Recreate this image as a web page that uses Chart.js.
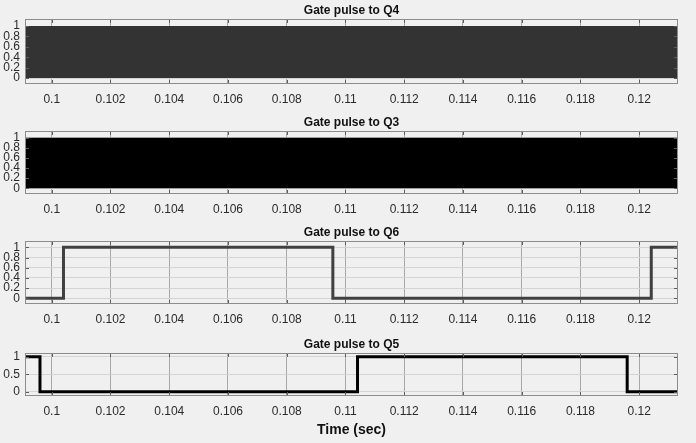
<!DOCTYPE html>
<html>
<head>
<meta charset="utf-8">
<script src="https://cdn.jsdelivr.net/npm/chart.js"></script>
<style>
  html, body { margin: 0; padding: 0; background: #f0f0f0; }
  #scope { position: relative; width: 696px; height: 443px; background: #f0f0f0; overflow: hidden; }
  #scope canvas { position: absolute; left: 0; }
</style>
</head>
<body>
<div id="scope">
  <canvas id="q4" width="696" height="110" style="top:0px"></canvas>
  <canvas id="q3" width="696" height="108" style="top:112px"></canvas>
  <canvas id="q6" width="696" height="108" style="top:222px"></canvas>
  <canvas id="q5" width="696" height="109" style="top:334px"></canvas>
</div>
<script>
// time window shown by the scope (sec)
const timeStart = 0.09909
const timeEnd = 0.12132

const timeTicks = [0.1, 0.102, 0.104, 0.106, 0.108, 0.11, 0.112, 0.114, 0.116, 0.118, 0.12]
const levelTicks = [0, 0.2, 0.4, 0.6, 0.8, 1]
const levelTicksQ5 = [0, 0.5, 1]

// Q4 / Q3 switch at high frequency, so the trace shows as a solid 0..1 band
const q4Time = [timeStart, timeEnd]
const q4Level = [1, 1]
const q3Time = [timeStart, timeEnd]
const q3Level = [1, 1]

// Q6 / Q5 switching instants (value holds until the next point)
const q6Time = [timeStart, 0.10040, 0.10957, 0.12041, timeEnd]
const q6Level = [0, 1, 0, 1, 1]
const q5Time = [timeStart, 0.09960, 0.11041, 0.11959, timeEnd]
const q5Level = [1, 0, 1, 0, 0]

Chart.defaults.font.family = "'Liberation Sans', Arial, sans-serif"
Chart.defaults.font.size = 12
Chart.defaults.color = "#2b2b2b"

const toPoints = (xs, ys) => xs.map((x, i) => ({x: x, y: ys[i]}))

// box, inner tick marks and a title centred over the plot box (Simulink scope look)
const scopeFrame = {
  id: "scopeFrame",
  afterDatasetsDraw(chart, args, opts) {
    const {ctx, chartArea: a} = chart
    const xs = chart.scales.x, ys = chart.scales.y
    ctx.save()
    ctx.lineWidth = 1
    ctx.strokeStyle = "#5c5c5c"
    ctx.beginPath()
    xs.ticks.forEach(t => {
      const px = Math.round(xs.getPixelForValue(t.value)) + 0.5
      ctx.moveTo(px, a.top); ctx.lineTo(px, a.top + 4)
      ctx.moveTo(px, a.bottom); ctx.lineTo(px, a.bottom - 4)
    })
    ys.ticks.forEach(t => {
      const py = Math.round(ys.getPixelForValue(t.value)) + 0.5
      ctx.moveTo(a.left, py); ctx.lineTo(a.left + 4, py)
      ctx.moveTo(a.right, py); ctx.lineTo(a.right - 4, py)
    })
    ctx.stroke()
    ctx.strokeStyle = "#8c8c8c"
    ctx.strokeRect(Math.round(a.left) + 0.5, Math.round(a.top) + 0.5, Math.round(a.width) - 1, Math.round(a.height) - 1)

    if (opts.text) {
      ctx.fillStyle = "#111"
      ctx.font = "bold 12px 'Liberation Sans', Arial, sans-serif"
      ctx.textAlign = "center"
      ctx.textBaseline = "middle"
      ctx.fillText(opts.text, (a.left + a.right) / 2, a.top - 8)
    }
    ctx.restore()
  }
}

function makeScope(id, title, dataset, yTicks, yMin, yMax, xAxisHeight, xTitle) {
  const ctx = document.getElementById(id).getContext("2d")
  return new Chart(ctx, {
    type: "line",
    data: { datasets: [dataset] },
    plugins: [scopeFrame],
    options: {
      responsive: false,
      animation: false,
      layout: { padding: { left: 0, right: 18, top: 19, bottom: 0 } },
      plugins: {
        legend: { display: false },
        tooltip: { enabled: false },
        title: { display: false },
        scopeFrame: { text: title }
      },
      scales: {
        x: {
          type: "linear",
          min: timeStart,
          max: timeEnd,
          afterBuildTicks: s => { s.ticks = timeTicks.map(v => ({value: v})) },
          afterFit: s => { s.height = xAxisHeight },
          ticks: {
            autoSkip: false,
            maxRotation: 0,
            padding: 8,
            callback: v => String(+v.toFixed(3))
          },
          grid: { color: "#a8a8a8", drawTicks: false },
          border: { display: false },
          title: xTitle ? {
            display: true,
            text: xTitle,
            color: "#111",
            font: { size: 14, weight: "bold", lineHeight: 1.2 },
            padding: { top: 0, bottom: 4 }
          } : { display: false }
        },
        y: {
          type: "linear",
          min: yMin,
          max: yMax,
          afterBuildTicks: s => { s.ticks = yTicks.map(v => ({value: v})) },
          afterFit: s => { s.width = 25 },
          ticks: { autoSkip: false, padding: 5, callback: v => String(v) },
          grid: { color: "#d4d4d4", drawTicks: false },
          border: { display: false }
        }
      }
    }
  })
}

makeScope("q4", "Gate pulse to Q4", {
  data: toPoints(q4Time, q4Level),
  borderWidth: 0,
  borderColor: "#333333",
  backgroundColor: "#333333",
  pointRadius: 0,
  fill: { value: 0 }
}, levelTicks, -0.115, 1.135, 26)

makeScope("q3", "Gate pulse to Q3", {
  data: toPoints(q3Time, q3Level),
  borderWidth: 0,
  borderColor: "#000000",
  backgroundColor: "#000000",
  pointRadius: 0,
  fill: { value: 0 }
}, levelTicks, -0.115, 1.135, 26)

makeScope("q6", "Gate pulse to Q6", {
  data: toPoints(q6Time, q6Level),
  stepped: true,
  borderWidth: 3,
  borderColor: "#404040",
  pointRadius: 0,
  fill: false
}, levelTicks, -0.112, 1.124, 26)

makeScope("q5", "Gate pulse to Q5", {
  data: toPoints(q5Time, q5Level),
  stepped: true,
  borderWidth: 3,
  borderColor: "#000000",
  pointRadius: 0,
  fill: false
}, levelTicksQ5, -0.12, 1.106, 47, "Time (sec)")
</script>
</body>
</html>
